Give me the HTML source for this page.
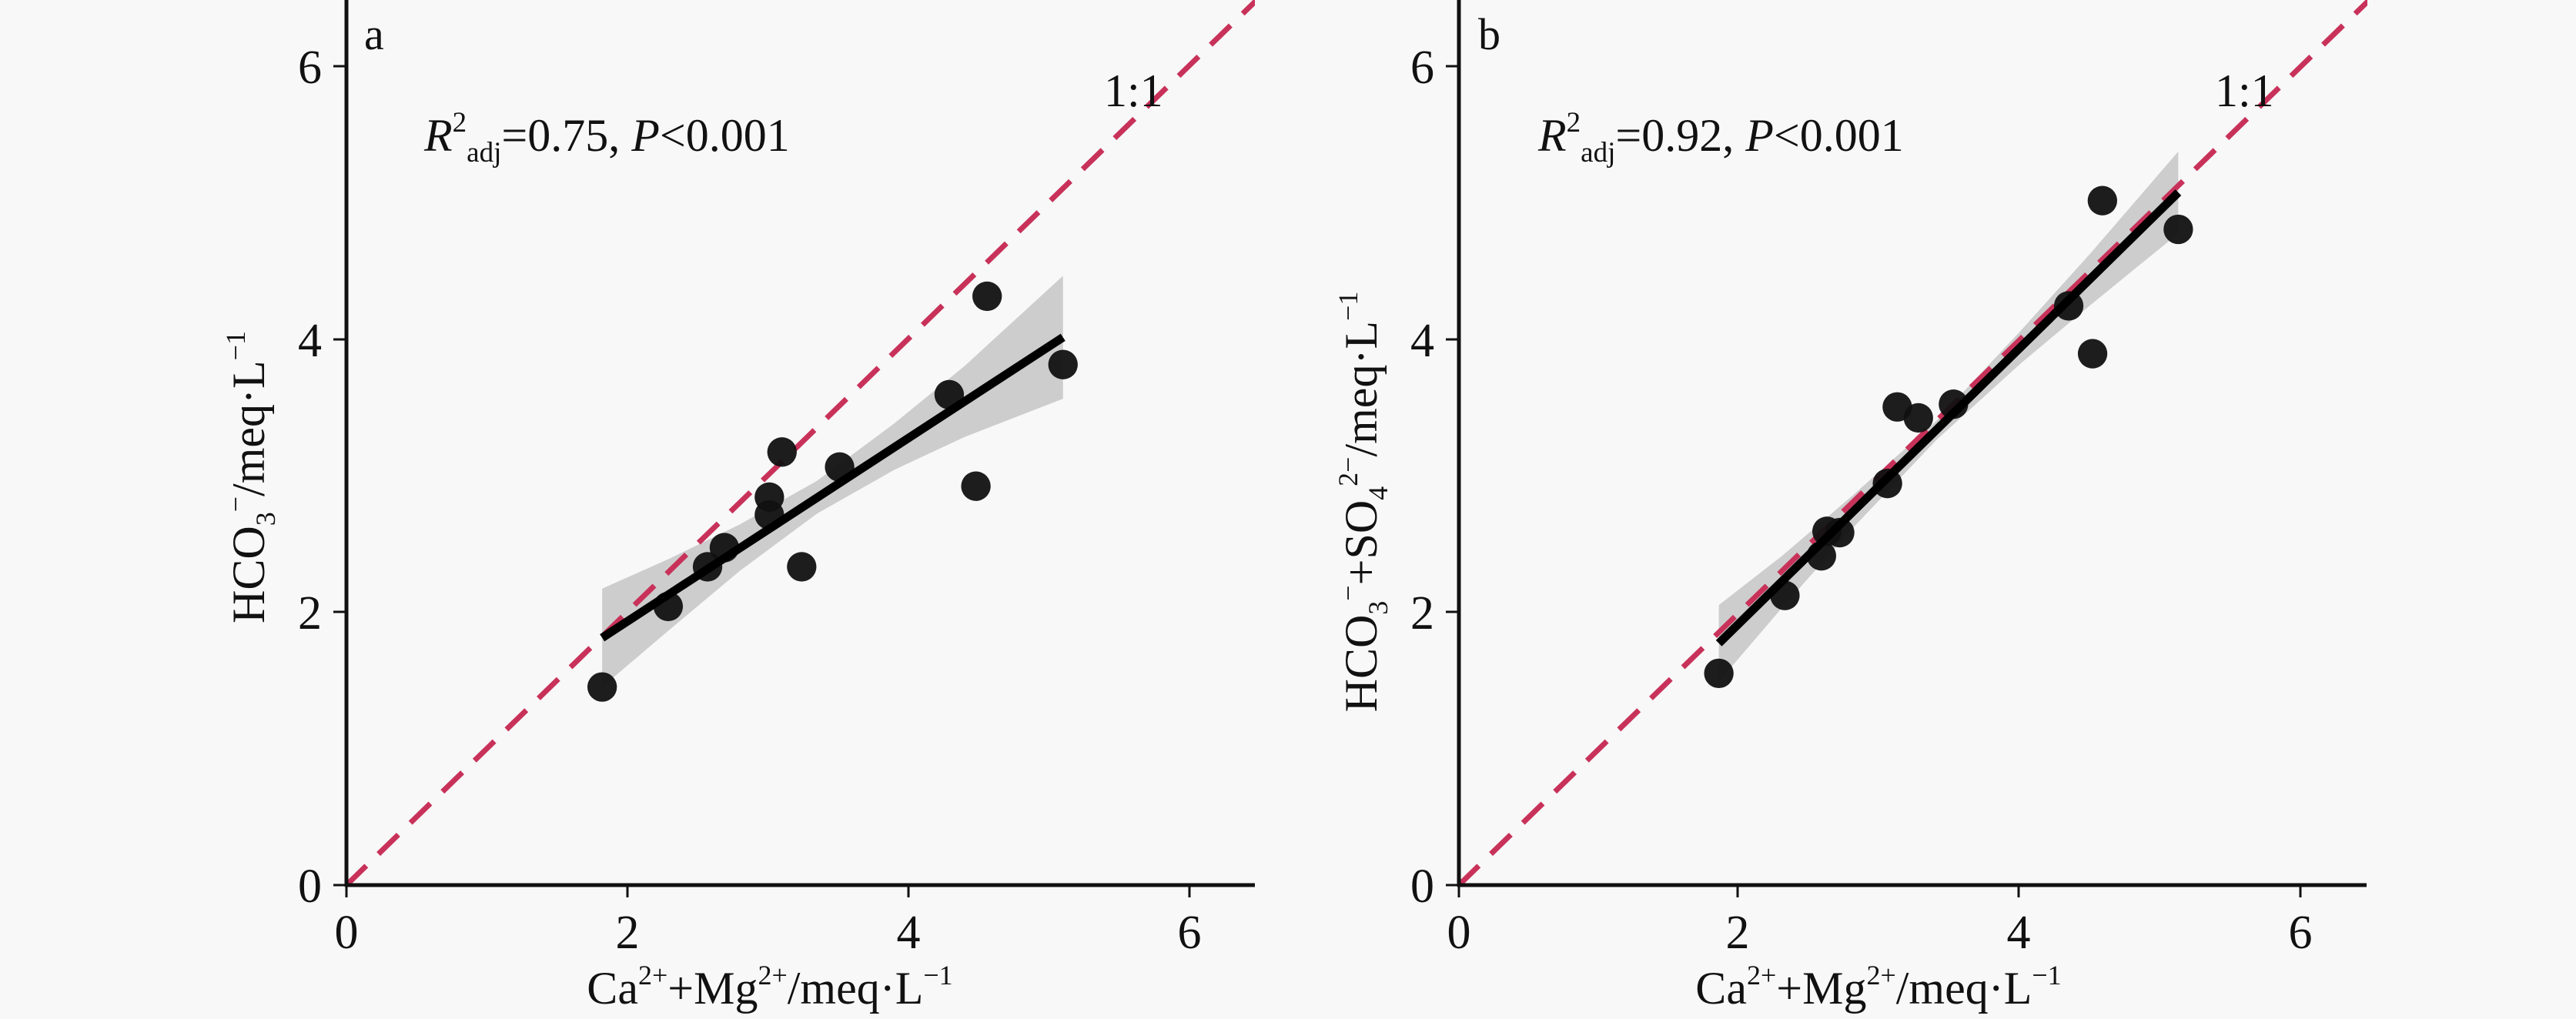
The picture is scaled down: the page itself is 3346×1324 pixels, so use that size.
<!DOCTYPE html>
<html><head><meta charset="utf-8"><style>
html,body{margin:0;padding:0;background:#f8f8f8;}
svg{display:block;}
text{font-family:"Liberation Serif",serif;fill:#111;}
</style></head><body>
<svg width="3346" height="1324" viewBox="0 0 3346 1324" xmlns="http://www.w3.org/2000/svg">
<rect width="3346" height="1324" fill="#f8f8f8"/>
<defs>
<clipPath id="ca"><rect x="450" y="0" width="1180" height="1150"/></clipPath>
<clipPath id="cb"><rect x="1895" y="0" width="1180" height="1150"/></clipPath>
</defs>

<!-- Panel a -->
<g clip-path="url(#ca)">
<g transform="translate(450,1150) scale(182.5,-177.5)">
<polygon fill="#cdcdcd" points="1.82,2.17 2.3,2.39 2.8,2.64 3.35,2.96 3.9,3.38 4.4,3.80 5.1,4.46 5.1,3.56 4.4,3.28 3.9,3.04 3.35,2.72 2.8,2.30 2.3,1.87 1.82,1.45"/>
<line x1="0" y1="0" x2="6.5" y2="6.5" stroke="#c8325a" stroke-width="7" stroke-dasharray="36,22" vector-effect="non-scaling-stroke"/>
<g fill="#111" fill-opacity="0.95">
<ellipse cx="1.82" cy="1.45" rx="0.105" ry="0.108"/>
<ellipse cx="2.29" cy="2.04" rx="0.105" ry="0.108"/>
<ellipse cx="2.57" cy="2.33" rx="0.105" ry="0.108"/>
<ellipse cx="2.69" cy="2.47" rx="0.105" ry="0.108"/>
<ellipse cx="3.01" cy="2.84" rx="0.105" ry="0.108"/>
<ellipse cx="3.01" cy="2.71" rx="0.105" ry="0.108"/>
<ellipse cx="3.10" cy="3.17" rx="0.105" ry="0.108"/>
<ellipse cx="3.24" cy="2.33" rx="0.105" ry="0.108"/>
<ellipse cx="3.51" cy="3.06" rx="0.105" ry="0.108"/>
<ellipse cx="4.29" cy="3.59" rx="0.105" ry="0.108"/>
<ellipse cx="4.48" cy="2.92" rx="0.105" ry="0.108"/>
<ellipse cx="4.56" cy="4.31" rx="0.105" ry="0.108"/>
<ellipse cx="5.10" cy="3.81" rx="0.105" ry="0.108"/>
</g>
<line x1="1.82" y1="1.81" x2="5.1" y2="4.01" stroke="#000" stroke-width="11" vector-effect="non-scaling-stroke"/>
</g>
</g>
<g stroke="#111" stroke-width="5">
<line x1="450" y1="0" x2="450" y2="1152"/>
<line x1="448" y1="1150" x2="1630" y2="1150"/>
</g>
<g stroke="#111" stroke-width="3">
<line x1="433" y1="86" x2="450" y2="86"/><line x1="433" y1="441" x2="450" y2="441"/><line x1="433" y1="795" x2="450" y2="795"/><line x1="433" y1="1150" x2="450" y2="1150"/>
<line x1="450" y1="1150" x2="450" y2="1166"/><line x1="815" y1="1150" x2="815" y2="1166"/><line x1="1180" y1="1150" x2="1180" y2="1166"/><line x1="1545" y1="1150" x2="1545" y2="1166"/>
</g>
<g font-size="62" text-anchor="end">
<text x="418" y="108">6</text><text x="418" y="463">4</text><text x="418" y="817">2</text><text x="418" y="1172">0</text>
</g>
<g font-size="62" text-anchor="middle">
<text x="450" y="1232">0</text><text x="815" y="1232">2</text><text x="1180" y="1232">4</text><text x="1545" y="1232">6</text>
</g>
<text x="1000" y="1304" font-size="60" text-anchor="middle">Ca<tspan font-size="36" dy="-25">2+</tspan><tspan dy="25">+Mg</tspan><tspan font-size="36" dy="-25">2+</tspan><tspan dy="25">/meq·L</tspan><tspan font-size="36" dy="-25">−1</tspan></text>
<text transform="translate(343,620) rotate(-90)" font-size="60" text-anchor="middle">HCO<tspan font-size="36" dy="14">3</tspan><tspan font-size="36" dy="-39">−</tspan><tspan dy="25">/meq·L</tspan><tspan font-size="36" dy="-25">−1</tspan></text>
<text x="473" y="64" font-size="58">a</text>
<text x="551" y="196" font-size="60"><tspan font-style="italic">R</tspan><tspan font-size="37" dy="-25">2</tspan><tspan font-size="37" dy="39">adj</tspan><tspan dy="-14">=0.75, </tspan><tspan font-style="italic">P</tspan>&lt;0.001</text>
<text x="1434" y="138" font-size="60">1:1</text>

<!-- Panel b -->
<g clip-path="url(#cb)">
<g transform="translate(1895,1150) scale(182.5,-177.5)">
<polygon fill="#cdcdcd" points="1.85,2.05 2.3,2.41 2.8,2.85 3.4,3.40 4.0,4.06 4.5,4.63 5.12,5.37 5.12,4.77 4.5,4.25 4.0,3.82 3.4,3.26 2.8,2.61 2.3,2.03 1.85,1.49"/>
<line x1="0" y1="0" x2="6.5" y2="6.5" stroke="#c8325a" stroke-width="7" stroke-dasharray="36,22" vector-effect="non-scaling-stroke"/>
<g fill="#111" fill-opacity="0.95">
<ellipse cx="1.85" cy="1.55" rx="0.105" ry="0.108"/>
<ellipse cx="2.32" cy="2.12" rx="0.105" ry="0.108"/>
<ellipse cx="2.58" cy="2.41" rx="0.105" ry="0.108"/>
<ellipse cx="2.62" cy="2.59" rx="0.105" ry="0.108"/>
<ellipse cx="2.71" cy="2.58" rx="0.105" ry="0.108"/>
<ellipse cx="3.05" cy="2.94" rx="0.105" ry="0.108"/>
<ellipse cx="3.12" cy="3.50" rx="0.105" ry="0.108"/>
<ellipse cx="3.27" cy="3.42" rx="0.105" ry="0.108"/>
<ellipse cx="3.52" cy="3.52" rx="0.105" ry="0.108"/>
<ellipse cx="4.34" cy="4.24" rx="0.105" ry="0.108"/>
<ellipse cx="4.51" cy="3.89" rx="0.105" ry="0.108"/>
<ellipse cx="4.58" cy="5.01" rx="0.105" ry="0.108"/>
<ellipse cx="5.12" cy="4.80" rx="0.105" ry="0.108"/>
</g>
<line x1="1.85" y1="1.77" x2="5.12" y2="5.07" stroke="#000" stroke-width="11" vector-effect="non-scaling-stroke"/>
</g>
</g>
<g stroke="#111" stroke-width="5">
<line x1="1895" y1="0" x2="1895" y2="1152"/>
<line x1="1893" y1="1150" x2="3074" y2="1150"/>
</g>
<g stroke="#111" stroke-width="3">
<line x1="1878" y1="86" x2="1895" y2="86"/><line x1="1878" y1="441" x2="1895" y2="441"/><line x1="1878" y1="795" x2="1895" y2="795"/><line x1="1878" y1="1150" x2="1895" y2="1150"/>
<line x1="1895" y1="1150" x2="1895" y2="1166"/><line x1="2257" y1="1150" x2="2257" y2="1166"/><line x1="2622" y1="1150" x2="2622" y2="1166"/><line x1="2988" y1="1150" x2="2988" y2="1166"/>
</g>
<g font-size="62" text-anchor="end">
<text x="1863" y="108">6</text><text x="1863" y="463">4</text><text x="1863" y="817">2</text><text x="1863" y="1172">0</text>
</g>
<g font-size="62" text-anchor="middle">
<text x="1895" y="1232">0</text><text x="2257" y="1232">2</text><text x="2622" y="1232">4</text><text x="2988" y="1232">6</text>
</g>
<text x="2440" y="1304" font-size="60" text-anchor="middle">Ca<tspan font-size="36" dy="-25">2+</tspan><tspan dy="25">+Mg</tspan><tspan font-size="36" dy="-25">2+</tspan><tspan dy="25">/meq·L</tspan><tspan font-size="36" dy="-25">−1</tspan></text>
<text transform="translate(1788,652) rotate(-90)" font-size="60" text-anchor="middle">HCO<tspan font-size="36" dy="14">3</tspan><tspan font-size="36" dy="-39">−</tspan><tspan dy="25">+SO</tspan><tspan font-size="36" dy="14">4</tspan><tspan font-size="36" dy="-39">2−</tspan><tspan dy="25">/meq·L</tspan><tspan font-size="36" dy="-25">−1</tspan></text>
<text x="1920" y="64" font-size="58">b</text>
<text x="1998" y="196" font-size="60"><tspan font-style="italic">R</tspan><tspan font-size="37" dy="-25">2</tspan><tspan font-size="37" dy="39">adj</tspan><tspan dy="-14">=0.92, </tspan><tspan font-style="italic">P</tspan>&lt;0.001</text>
<text x="2877" y="138" font-size="60">1:1</text>
</svg>
</body></html>
